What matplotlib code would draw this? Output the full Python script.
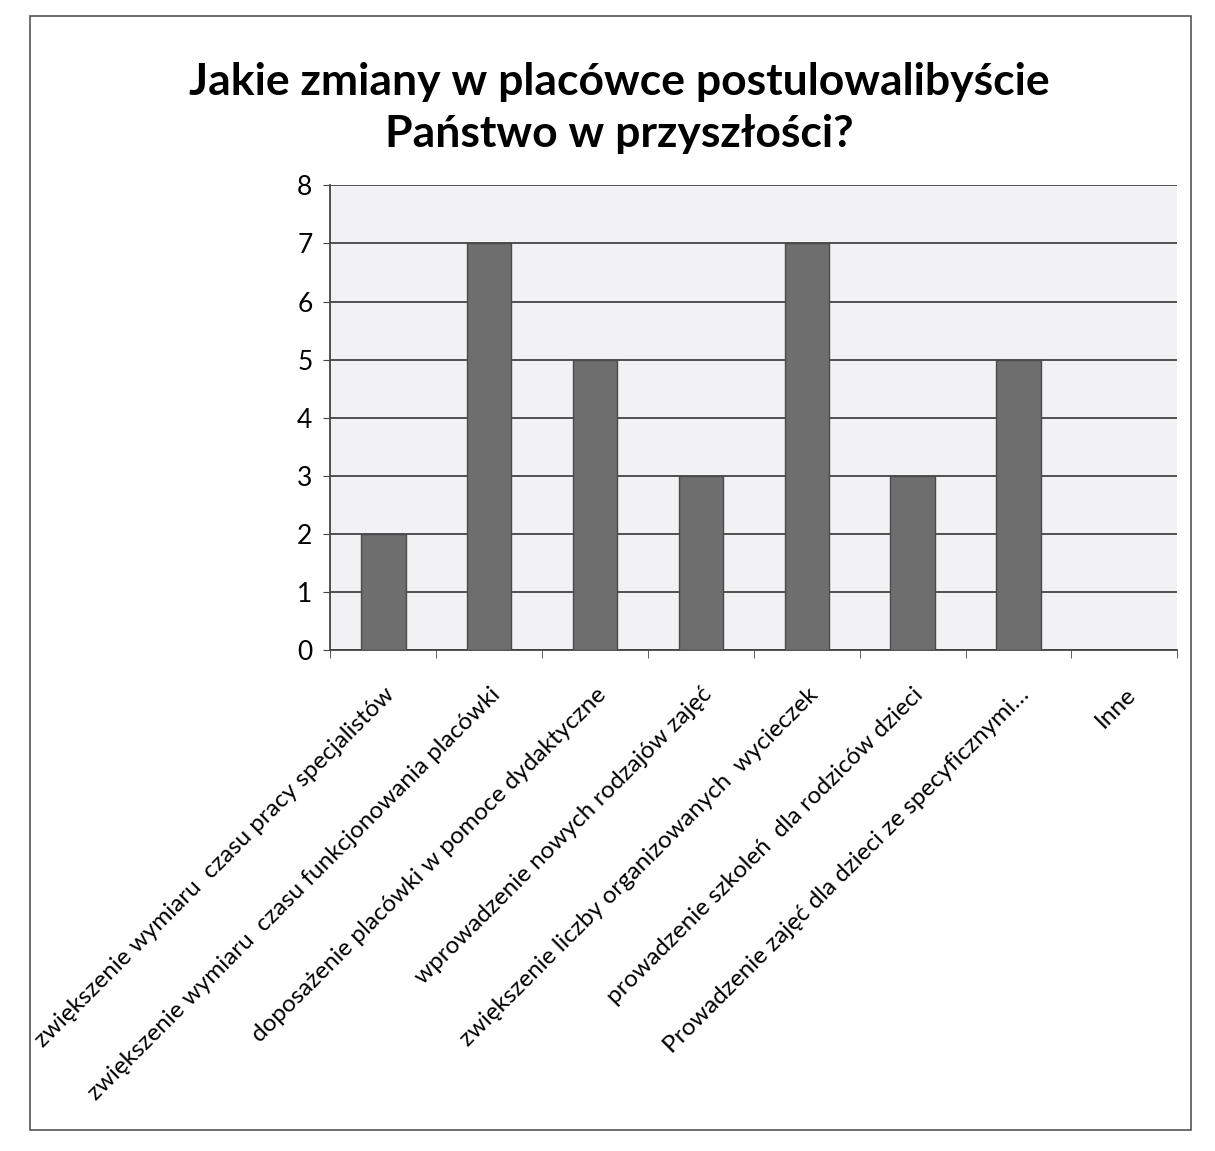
#!/usr/bin/env python3

import matplotlib.pyplot as plt
import numpy as np

plt.rcParams['font.family'] = ['Lato', 'DejaVu Sans']

# dane z wykresu
kategorie = [
    'zwiększenie wymiaru  czasu pracy specjalistów',
    'zwiększenie wymiaru  czasu funkcjonowania placówki',
    'doposażenie placówki w pomoce dydaktyczne',
    'wprowadzenie nowych rodzajów zajęć',
    'zwiększenie liczby organizowanych  wycieczek',
    'prowadzenie szkoleń  dla rodziców dzieci',
    'Prowadzenie zajęć dla dzieci ze specyficznymi…',
    'Inne',
]
wartosci = [2, 7, 5, 3, 7, 3, 5, 0]
ticki_y = [0, 1, 2, 3, 4, 5, 6, 7, 8]

fig = plt.figure(figsize=(12.15, 11.51), dpi=100)

# ramka wykresu
fig.patches.append(plt.Rectangle((0.025, 0.018), 0.955, 0.968, transform=fig.transFigure,
                                 fill=False, edgecolor='#555555', linewidth=1.2))

ax = fig.add_axes([0.272, 0.435, 0.697, 0.404])
ax.set_facecolor('#f2f2f4')

x = np.arange(len(kategorie))
ax.bar(x, wartosci, width=0.42, color='#6e6e6e', edgecolor='#4a4a4a', linewidth=1, zorder=3)

ax.set_xlim(-0.5, len(kategorie) - 0.5)
ax.set_ylim(0, 8)
ax.set_yticks(ticki_y)
ax.yaxis.grid(True, color='#444444', linewidth=1.3, zorder=1)
ax.tick_params(axis='y', labelsize=19, length=5, color='#444444', pad=8)

ax.set_xticks(x)
ax.set_xticklabels(kategorie, rotation=45, ha='right', rotation_mode='anchor', fontsize=17.5)
ax.set_xticks(np.arange(len(kategorie) + 1) - 0.5, minor=True)
ax.tick_params(axis='x', which='major', length=0, pad=24)
ax.tick_params(axis='x', which='minor', length=6, color='#444444')

for s in ['top', 'right']:
    ax.spines[s].set_visible(False)
ax.spines['left'].set_color('#444444')
ax.spines['bottom'].set_color('#444444')
ax.spines['left'].set_linewidth(1.3)
ax.spines['bottom'].set_linewidth(1.3)

fig.text(0.51, 0.906, 'Jakie zmiany w placówce postulowalibyście\nPaństwo w przyszłości?',
         ha='center', va='center', fontsize=32, fontweight='bold', linespacing=1.35)

plt.savefig('out.png', dpi=100)
